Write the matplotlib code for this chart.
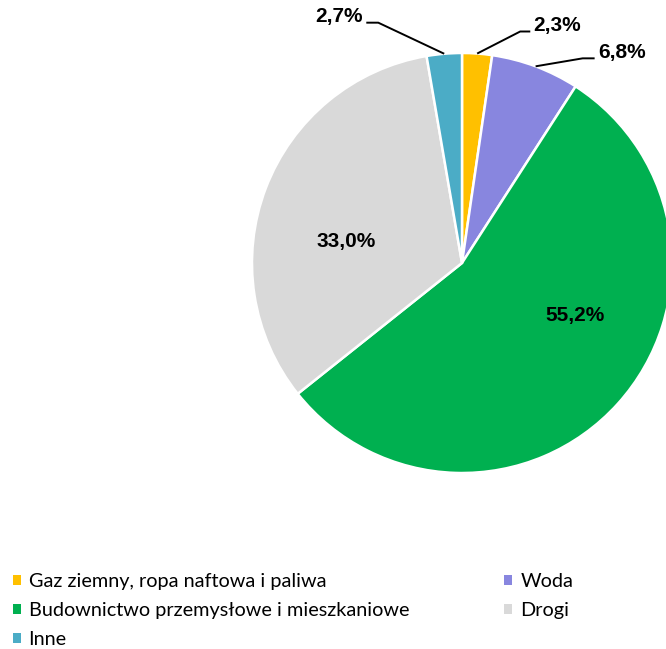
import numpy as np
import matplotlib.pyplot as plt
from matplotlib.patches import Patch

plt.rcParams['font.family'] = ['Lato', 'DejaVu Sans']

categories = ['Gaz ziemny, ropa naftowa i paliwa', 'Woda',
              'Budownictwo przemysłowe i mieszkaniowe', 'Drogi', 'Inne']
values = [2.3, 6.8, 55.2, 33.0, 2.7]
labels = ['2,3%', '6,8%', '55,2%', '33,0%', '2,7%']
colors = ['#FFC000', '#8886DF', '#00B050', '#D9D9D9', '#4BACC6']

W, H = 666, 649
cx, cy, r = 462, 263, 210
lab_font = dict(family=['Liberation Sans', 'DejaVu Sans'], fontsize=15,
                fontweight='bold', color='black')

fig = plt.figure(figsize=(W / 100, H / 100), dpi=100)
ax = fig.add_axes([0, 0, 1, 1])
ax.set_axis_off()

wedges, _ = ax.pie(values, colors=colors, startangle=90, counterclock=False,
                   radius=1, wedgeprops=dict(edgecolor='white', linewidth=1.8))
ax.set_xlim(-cx / r, (W - cx) / r)
ax.set_ylim(-(H - cy) / r, cy / r)

# inner labels (data coords)
inner = {2: (0.54, -0.25), 3: (-0.55, 0.10)}
for i, (x, y) in inner.items():
    ax.text(x, y, labels[i], ha='center', va='center', **lab_font)

# outer labels: elbow offset from wedge edge, tail length
outer = {0: (0.205, 0.105, 0.048), 1: (0.224, 0.038, 0.057), 4: (-0.314, 0.148, -0.057)}
for i, (ex, ey, tail) in outer.items():
    w = wedges[i]
    ang = np.deg2rad((w.theta1 + w.theta2) / 2)
    px, py = np.cos(ang), np.sin(ang)
    elbow_x, elbow_y = px + ex, py + ey
    end_x = elbow_x + tail
    ax.plot([px, elbow_x, end_x], [py, elbow_y, elbow_y], color='black', lw=1.4,
            solid_capstyle='butt')
    ha = 'left' if tail > 0 else 'right'
    ax.text(end_x + np.sign(tail) * 0.015, elbow_y + 0.03, labels[i],
            ha=ha, va='center', **lab_font)

order = [0, 2, 4, 1, 3]
handles = [Patch(facecolor=colors[i], edgecolor='none') for i in order]
fig.legend(handles, [categories[i] for i in order], ncol=2,
           loc='upper left', bbox_to_anchor=(0.019, 0.117), frameon=False,
           fontsize=14.3, handlelength=0.4, handleheight=0.4, handletextpad=0.4,
           labelspacing=0.6, columnspacing=4.8, borderaxespad=0, borderpad=0)

fig.savefig('out.png', dpi=100)
